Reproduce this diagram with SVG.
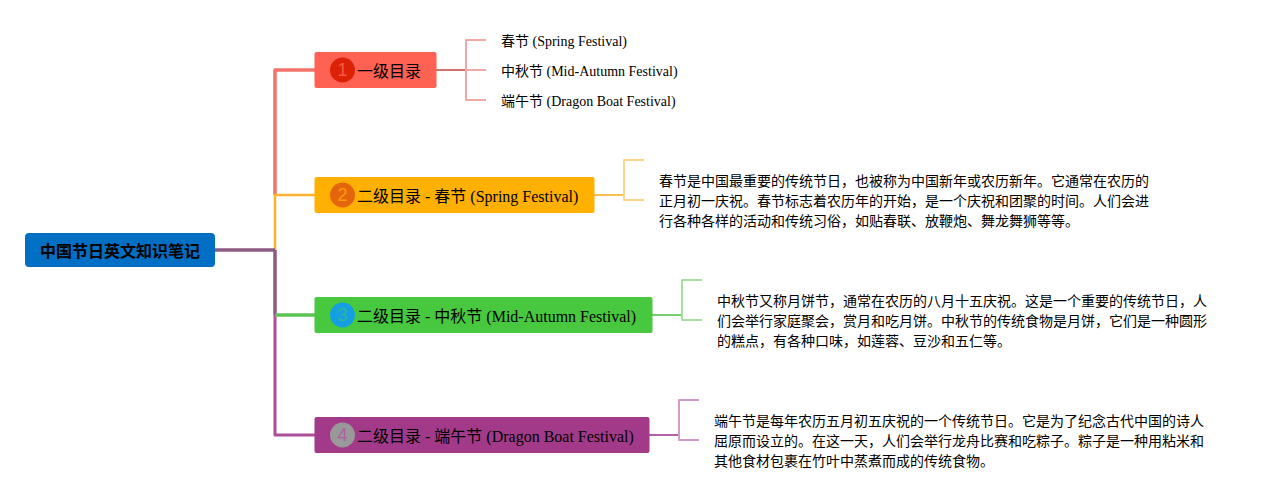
<svg xmlns="http://www.w3.org/2000/svg" width="1277" height="500" viewBox="0 0 1277 500">
<style>
text{font-family:"Liberation Serif","Noto Sans CJK SC",serif;fill:#000}
.root{font-family:"Noto Sans CJK SC",sans-serif;font-size:16px;font-weight:700;text-anchor:middle}
.t{font-size:16px}
.l{font-size:14px}
.num{font-family:"Liberation Sans",sans-serif;font-size:18px;text-anchor:middle}
.c{fill:none;stroke-linejoin:round}
</style>
<rect width="1277" height="500" fill="#fff"/>
<g id="connectors">
<path class="c" d="M315 70H275V195" stroke="#f2736a" stroke-width="3.500"/>
<path class="c" d="M315 195H275V250" stroke="#fbb22e" stroke-width="2.500"/>
<path class="c" d="M275 315V435H315" stroke="#aa4f98" stroke-width="3"/>
<path class="c" d="M275 250V315" stroke="#8c5a83" stroke-width="3.500"/>
<path class="c" d="M275 315H315" stroke="#5cc353" stroke-width="3.500"/>
<path class="c" d="M215 250H275" stroke="#8c5a83" stroke-width="3.500"/>
<path class="c" d="M436 70H466" stroke="#d4706a" stroke-width="2"/>
<path class="c" d="M486 40H466V100H486M466 70H486" stroke="#f0a8a3" stroke-width="2"/>
<path class="c" d="M594 195H624" stroke="#f8c04f" stroke-width="2"/>
<path class="c" d="M644 160H624V200H644" stroke="#fbd68a" stroke-width="2"/>
<path class="c" d="M652 315H682" stroke="#74cf6c" stroke-width="2"/>
<path class="c" d="M702 280H682V320H702" stroke="#a5e09f" stroke-width="2"/>
<path class="c" d="M649 435H679" stroke="#b560a5" stroke-width="2"/>
<path class="c" d="M699 400H679V440H699" stroke="#d19cc8" stroke-width="2"/>
</g>
<g id="root"><rect x="25" y="233" width="190" height="34" rx="4" fill="#006fc4"/><text class="root" x="120" y="257">中国节日英文知识笔记</text></g>
<g id="n1"><rect x="314.500" y="52" width="122" height="36" rx="2" fill="#ff6152"/><circle cx="342.500" cy="70" r="12.500" fill="#dd2106"/><text class="num" x="342.500" y="76" style="fill:#f25a45">1</text><text class="t" x="357" y="77">一级目录</text></g>
<g id="n2"><rect x="314.500" y="177" width="280" height="36" rx="2" fill="#ffb000"/><circle cx="342.500" cy="195" r="12.500" fill="#e5650c"/><text class="num" x="342.500" y="201" style="fill:#fb9b10">2</text><text class="t" x="357" y="202">二级目录 - 春节 (Spring Festival)</text></g>
<g id="n3"><rect x="314.500" y="297" width="338" height="36" rx="2" fill="#48c83e"/><circle cx="342.500" cy="315" r="12.500" fill="#14a0e0"/><text class="num" x="342.500" y="321" style="fill:#2eb4a0">3</text><text class="t" x="357" y="322">二级目录 - 中秋节 (Mid-Autumn Festival)</text></g>
<g id="n4"><rect x="314.500" y="417" width="335" height="36" rx="2" fill="#a33a89"/><circle cx="342.500" cy="435" r="12.500" fill="#999"/><text class="num" x="342.500" y="441" style="fill:#b0609f">4</text><text class="t" x="357" y="442">二级目录 - 端午节 (Dragon Boat Festival)</text></g>
<g id="leaf1"><text class="l" x="501" y="46">春节 (Spring Festival)</text></g>
<g id="leaf2"><text class="l" x="501" y="76">中秋节 (Mid-Autumn Festival)</text></g>
<g id="leaf3"><text class="l" x="501" y="106">端午节 (Dragon Boat Festival)</text></g>
<g id="desc1"><text class="l" x="659" y="186">春节是中国最重要的传统节日，也被称为中国新年或农历新年。它通常在农历的</text><text class="l" x="659" y="206">正月初一庆祝。春节标志着农历年的开始，是一个庆祝和团聚的时间。人们会进</text><text class="l" x="659" y="226">行各种各样的活动和传统习俗，如贴春联、放鞭炮、舞龙舞狮等等。</text></g>
<g id="desc2"><text class="l" x="717" y="306">中秋节又称月饼节，通常在农历的八月十五庆祝。这是一个重要的传统节日，人</text><text class="l" x="717" y="326">们会举行家庭聚会，赏月和吃月饼。中秋节的传统食物是月饼，它们是一种圆形</text><text class="l" x="717" y="346">的糕点，有各种口味，如莲蓉、豆沙和五仁等。</text></g>
<g id="desc3"><text class="l" x="714" y="426">端午节是每年农历五月初五庆祝的一个传统节日。它是为了纪念古代中国的诗人</text><text class="l" x="714" y="446">屈原而设立的。在这一天，人们会举行龙舟比赛和吃粽子。粽子是一种用粘米和</text><text class="l" x="714" y="466">其他食材包裹在竹叶中蒸煮而成的传统食物。</text></g>
</svg>
